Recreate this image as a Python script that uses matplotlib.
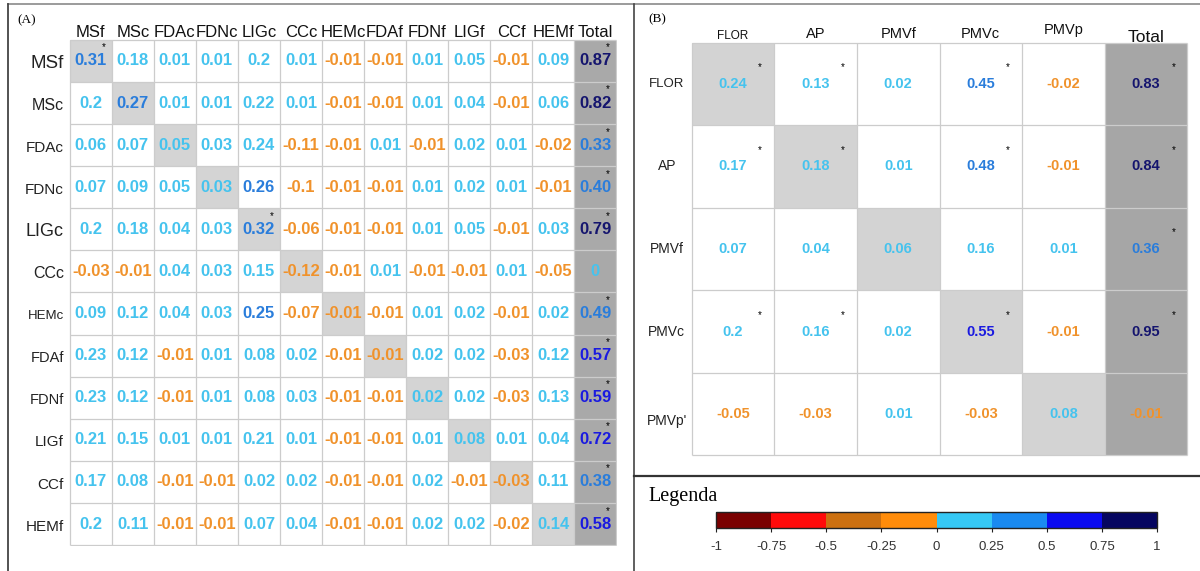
import matplotlib
matplotlib.use('Agg')
import matplotlib.pyplot as plt
import numpy as np
from matplotlib.colors import ListedColormap, BoundaryNorm
from matplotlib.colorbar import ColorbarBase

plt.rcParams['font.family'] = ['Liberation Sans', 'DejaVu Sans']

# ---- data: panel A ----
a_rows = ['MSf', 'MSc', 'FDAc', 'FDNc', 'LIGc', 'CCc', 'HEMc', 'FDAf', 'FDNf', 'LIGf', 'CCf', 'HEMf']
a_cols = a_rows + ['Total']
a_values = [
    ['0.31', '0.18', '0.01', '0.01', '0.2', '0.01', '-0.01', '-0.01', '0.01', '0.05', '-0.01', '0.09', '0.87'],
    ['0.2', '0.27', '0.01', '0.01', '0.22', '0.01', '-0.01', '-0.01', '0.01', '0.04', '-0.01', '0.06', '0.82'],
    ['0.06', '0.07', '0.05', '0.03', '0.24', '-0.11', '-0.01', '0.01', '-0.01', '0.02', '0.01', '-0.02', '0.33'],
    ['0.07', '0.09', '0.05', '0.03', '0.26', '-0.1', '-0.01', '-0.01', '0.01', '0.02', '0.01', '-0.01', '0.40'],
    ['0.2', '0.18', '0.04', '0.03', '0.32', '-0.06', '-0.01', '-0.01', '0.01', '0.05', '-0.01', '0.03', '0.79'],
    ['-0.03', '-0.01', '0.04', '0.03', '0.15', '-0.12', '-0.01', '0.01', '-0.01', '-0.01', '0.01', '-0.05', '0'],
    ['0.09', '0.12', '0.04', '0.03', '0.25', '-0.07', '-0.01', '-0.01', '0.01', '0.02', '-0.01', '0.02', '0.49'],
    ['0.23', '0.12', '-0.01', '0.01', '0.08', '0.02', '-0.01', '-0.01', '0.02', '0.02', '-0.03', '0.12', '0.57'],
    ['0.23', '0.12', '-0.01', '0.01', '0.08', '0.03', '-0.01', '-0.01', '0.02', '0.02', '-0.03', '0.13', '0.59'],
    ['0.21', '0.15', '0.01', '0.01', '0.21', '0.01', '-0.01', '-0.01', '0.01', '0.08', '0.01', '0.04', '0.72'],
    ['0.17', '0.08', '-0.01', '-0.01', '0.02', '0.02', '-0.01', '-0.01', '0.02', '-0.01', '-0.03', '0.11', '0.38'],
    ['0.2', '0.11', '-0.01', '-0.01', '0.07', '0.04', '-0.01', '-0.01', '0.02', '0.02', '-0.02', '0.14', '0.58'],
]
# significant cells (row, col)
a_signif = [(0, 0), (4, 4)] + [(i, 12) for i in range(12) if i != 5]

# ---- data: panel B ----
b_rows = ['FLOR', 'AP', 'PMVf', 'PMVc', "PMVp'"]
b_cols = ['FLOR', 'AP', 'PMVf', 'PMVc', 'PMVp', 'Total']
b_values = [
    ['0.24', '0.13', '0.02', '0.45', '-0.02', '0.83'],
    ['0.17', '0.18', '0.01', '0.48', '-0.01', '0.84'],
    ['0.07', '0.04', '0.06', '0.16', '0.01', '0.36'],
    ['0.2', '0.16', '0.02', '0.55', '-0.01', '0.95'],
    ['-0.05', '-0.03', '0.01', '-0.03', '0.08', '-0.01'],
]
b_signif = [(0, 0), (0, 1), (0, 3), (0, 5),
            (1, 0), (1, 1), (1, 3), (1, 5),
            (2, 5),
            (3, 0), (3, 1), (3, 3), (3, 5)]

# ---- legend scale ----
legend_bounds = [-1, -0.75, -0.5, -0.25, 0, 0.25, 0.5, 0.75, 1]
legend_ticklabels = ['-1', '-0.75', '-0.5', '-0.25', '0', '0.25', '0.5', '0.75', '1']
legend_colors = ['#7a0000', '#ff0a0a', '#cc7010', '#ff8c0a',
                 '#35c8f5', '#1a8af0', '#0a0af0', '#050560']
text_colors = ['#7a0000', '#ff2020', '#d07a20', '#f0922b',
               '#45c3ee', '#2a7ddb', '#1a1ae0', '#15156e']

W, H = 1200, 571
fig = plt.figure(figsize=(12, 5.71), dpi=100)


def px_axes(x0, y0, x1, y1):
    return fig.add_axes([x0 / W, 1 - y1 / H, (x1 - x0) / W, (y1 - y0) / H])


def value_color(v):
    k = np.searchsorted(legend_bounds, v, side='right') - 1
    return text_colors[int(np.clip(k, 0, len(text_colors) - 1))]


# frame lines
bg = px_axes(0, 0, W, H)
bg.set_xlim(0, W)
bg.set_ylim(H, 0)
bg.axis('off')
bg.plot([8, W], [4, 4], color='#8a8a8a', lw=1.2)
bg.plot([8, 8], [4, H], color='#444444', lw=1.3)
bg.plot([634, 634], [4, H], color='#444444', lw=1.2)
bg.plot([634, W], [476, 476], color='#333333', lw=1.6)
bg.text(17, 20, '(A)', fontsize=9.5, family='Liberation Serif', va='center')
bg.text(648, 19, '(B)', fontsize=9.5, family='Liberation Serif', va='center')
bg.text(648, 497, 'Legenda', fontsize=14.5, family='Liberation Serif', va='center')


def draw_table(ax, rows, cols, values, signif, diag_gray, total_gray, fs, star_dx, star_dy, star_fs, bold):
    nr, nc = len(rows), len(cols)
    kind = np.zeros((nr, nc))
    for i in range(nr):
        kind[i, i] = 1
        kind[i, nc - 1] = 2
    ax.pcolormesh(np.arange(nc + 1), np.arange(nr + 1), kind,
                  cmap=ListedColormap(['white', diag_gray, total_gray]), vmin=0, vmax=2)
    ax.hlines(np.arange(nr + 1), 0, nc, color='#cccccc', lw=0.9)
    ax.vlines(np.arange(nc + 1), 0, nr, color='#cccccc', lw=0.9)
    ax.set_xlim(-0.02, nc + 0.02)
    ax.set_ylim(nr + 0.02, -0.02)
    ax.axis('off')
    for i in range(nr):
        for j in range(nc):
            s = values[i][j]
            ax.text(j + 0.5, i + 0.5, s, ha='center', va='center', fontsize=fs,
                    fontweight='bold' if bold else 'semibold', color=value_color(float(s)))
    for i, j in signif:
        ax.text(j + 0.5 + star_dx, i + 0.5 + star_dy, '*', ha='center', va='center',
                fontsize=star_fs, color='black')


# ---- panel A ----
axA = px_axes(69, 39, 617, 546)
draw_table(axA, a_rows, a_cols, a_values, a_signif, '#d4d4d4', '#a9a9a9',
           12, 0.3, -0.32, 7, True)
a_rowsizes = [13.5, 11.5, 11, 11, 13, 11.5, 9.5, 10.5, 10.5, 11, 11, 11]
for i, (lab, fsz) in enumerate(zip(a_rows, a_rowsizes)):
    axA.text(-0.14, i + 0.56, lab, ha='right', va='center', fontsize=fsz, color='#222222')
for j, lab in enumerate(a_cols):
    axA.text(j + 0.5, -0.07, lab, ha='center', va='baseline', fontsize=12, color='#111111')

# ---- panel B ----
axB = px_axes(690, 41, 1189, 457)
draw_table(axB, b_rows, b_cols, b_values, b_signif, '#d3d3d3', '#a6a6a6',
           10.5, 0.33, -0.2, 7, False)
for i, lab in enumerate(b_rows):
    axB.text(-0.3, i + 0.5 + (0.08 if i == 4 else 0), lab, ha='center', va='center',
             fontsize=9.5 if lab == 'FLOR' else 10, color='#222222')
b_headsizes = [8.5, 10.5, 10.5, 10.5, 10.5, 12.5]
b_headdy = [-0.05, -0.06, -0.06, -0.06, -0.1, -0.01]
for j, lab in enumerate(b_cols):
    axB.text(j + 0.5, b_headdy[j], lab, ha='center', va='baseline',
             fontsize=b_headsizes[j], color='#111111')

# ---- legend colour bar ----
axL = px_axes(716, 512, 1157, 528)
cb = ColorbarBase(axL, cmap=ListedColormap(legend_colors),
                  norm=BoundaryNorm(legend_bounds, len(legend_colors)),
                  orientation='horizontal', ticks=legend_bounds)
cb.set_ticklabels(legend_ticklabels)
cb.outline.set_edgecolor('#222222')
cb.outline.set_linewidth(1.0)
axL.tick_params(axis='x', length=3, width=0.8, color='#222222', labelsize=9.5,
                labelcolor='#333333', pad=6)

fig.savefig('out.png', dpi=100, facecolor='white')
